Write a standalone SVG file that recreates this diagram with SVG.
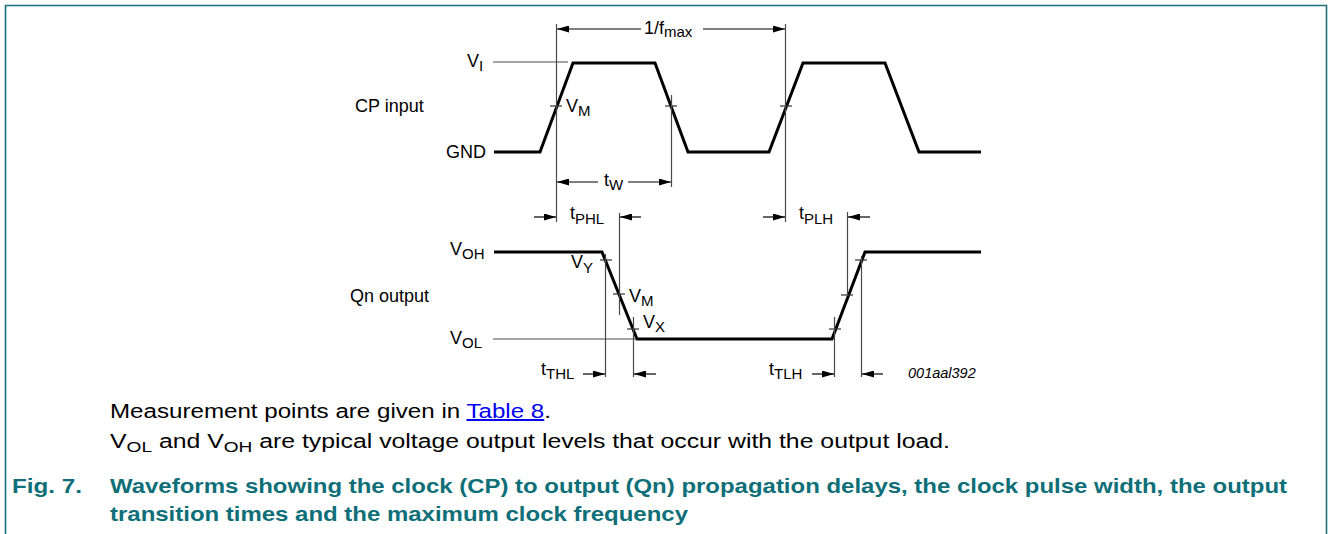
<svg xmlns="http://www.w3.org/2000/svg" width="1328" height="534" viewBox="0 0 1328 534">
<style>
text{font-family:"Liberation Sans",Arial,sans-serif;fill:#000}
.lbl{font-size:18px}
.sub{font-size:15px}
.wave{fill:none;stroke:#000;stroke-width:3;stroke-linejoin:miter}
.thin{fill:none;stroke:#4a4a4a;stroke-width:1.2}
.tick{fill:none;stroke:#333;stroke-width:1.2}
.dim{fill:none;stroke:#000;stroke-width:1.2}
.body{font-size:19.5px}
.cap{font-size:21px;font-weight:bold;fill:#0f6f78}
</style>
<defs>
<marker id="ah" viewBox="0 0 12 7" refX="12" refY="3.5" markerWidth="12" markerHeight="7" markerUnits="userSpaceOnUse" orient="auto">
<path d="M0,0 L12,3.5 L0,7 z" fill="#000"/>
</marker>
</defs>
<rect width="1328" height="534" fill="#fff"/>
<path d="M5.5,534 V5.5 H1326.5 V534" fill="none" stroke="#1b6f78" stroke-width="1.6"/>

<g id="cp-input">
<polyline class="wave" points="494,152 540,152 573,63 655,63 688,152 769,152 803,63 885,63 919,152 981,152"/>
<line class="thin" x1="493" y1="62" x2="568" y2="62"/>
<line class="tick" x1="550" y1="106" x2="562" y2="106"/>
<line class="tick" x1="665" y1="106" x2="677" y2="106"/>
<line class="tick" x1="780" y1="106" x2="792" y2="106"/>
<text class="lbl" x="355" y="112">CP input</text>
<text class="lbl" x="446" y="158">GND</text>
<text class="lbl" x="467" y="67">V<tspan class="sub" dy="4">I</tspan></text>
<text class="lbl" x="566" y="112">V<tspan class="sub" dy="4">M</tspan></text>
</g>

<g id="qn-output">
<polyline class="wave" points="494,252 602,252 637,339 832,339 865,252 981,252"/>
<line class="thin" x1="493" y1="339" x2="637" y2="339"/>
<line class="tick" x1="600" y1="260" x2="612" y2="260"/>
<line class="tick" x1="613" y1="294" x2="625" y2="294"/>
<line class="tick" x1="627" y1="329" x2="639" y2="329"/>
<line class="tick" x1="829" y1="329" x2="841" y2="329"/>
<line class="tick" x1="841" y1="295" x2="853" y2="295"/>
<line class="tick" x1="855" y1="260" x2="867" y2="260"/>
<text class="lbl" x="350" y="302">Qn output</text>
<text class="lbl" x="450" y="255">V<tspan class="sub" dy="4">OH</tspan></text>
<text class="lbl" x="450" y="344">V<tspan class="sub" dy="4">OL</tspan></text>
<text class="lbl" x="571" y="268">V<tspan class="sub" dy="5">Y</tspan></text>
<text class="lbl" x="629" y="302">V<tspan class="sub" dy="4">M</tspan></text>
<text class="lbl" x="643" y="328">V<tspan class="sub" dy="4">X</tspan></text>
<text x="908" y="378" style="font-size:14.5px;font-style:italic">001aal392</text>
</g>

<g id="connectors">
<line class="thin" x1="556.5" y1="24" x2="556.5" y2="222"/>
<line class="thin" x1="785.5" y1="24" x2="785.5" y2="222"/>
<line class="thin" x1="671.5" y1="95" x2="671.5" y2="187"/>
<line class="thin" x1="619.5" y1="213" x2="619.5" y2="315"/>
<line class="thin" x1="847.5" y1="212" x2="847.5" y2="296"/>
<line class="thin" x1="605.5" y1="254" x2="605.5" y2="377"/>
<line class="thin" x1="633.5" y1="317" x2="633.5" y2="377"/>
<line class="thin" x1="834.5" y1="317" x2="834.5" y2="377"/>
<line class="thin" x1="861.5" y1="256" x2="861.5" y2="377"/>

<line class="dim" x1="641" y1="29" x2="557" y2="29" marker-end="url(#ah)"/>
<line class="dim" x1="703" y1="29" x2="785" y2="29" marker-end="url(#ah)"/>
<line class="dim" x1="598" y1="182" x2="557" y2="182" marker-end="url(#ah)"/>
<line class="dim" x1="628" y1="182" x2="671" y2="182" marker-end="url(#ah)"/>
<line class="dim" x1="534" y1="217" x2="556" y2="217" marker-end="url(#ah)"/>
<line class="dim" x1="641" y1="217" x2="620" y2="217" marker-end="url(#ah)"/>
<line class="dim" x1="763" y1="217" x2="785" y2="217" marker-end="url(#ah)"/>
<line class="dim" x1="870" y1="217" x2="848" y2="217" marker-end="url(#ah)"/>
<line class="dim" x1="583" y1="374" x2="605" y2="374" marker-end="url(#ah)"/>
<line class="dim" x1="656" y1="374" x2="634" y2="374" marker-end="url(#ah)"/>
<line class="dim" x1="812" y1="374" x2="834" y2="374" marker-end="url(#ah)"/>
<line class="dim" x1="883" y1="374" x2="862" y2="374" marker-end="url(#ah)"/>

<text class="lbl" x="644" y="34">1/f<tspan class="sub" dy="3">max</tspan></text>
<text class="lbl" x="604" y="186">t<tspan class="sub" dy="4">W</tspan></text>
<text class="lbl" x="570" y="219">t<tspan class="sub" dy="5">PHL</tspan></text>
<text class="lbl" x="799" y="219">t<tspan class="sub" dy="5">PLH</tspan></text>
<text class="lbl" x="541" y="375">t<tspan class="sub" dy="4">THL</tspan></text>
<text class="lbl" x="769" y="375">t<tspan class="sub" dy="4">TLH</tspan></text>
</g>

<g id="notes">
<text class="body" x="110" y="418" textLength="441" lengthAdjust="spacingAndGlyphs">Measurement points are given in <tspan text-decoration="underline" style="fill:#0000ee">Table 8</tspan>.</text>
<text class="body" x="110" y="448" textLength="840" lengthAdjust="spacingAndGlyphs">V<tspan dy="4" style="font-size:15px">OL</tspan><tspan dy="-4"> and V</tspan><tspan dy="4" style="font-size:15px">OH</tspan><tspan dy="-4"> are typical voltage output levels that occur with the output load.</tspan></text>
</g>

<g id="caption">
<text class="cap" x="12" y="493" textLength="70" lengthAdjust="spacingAndGlyphs">Fig. 7.</text>
<text class="cap" x="110" y="493" textLength="1177" lengthAdjust="spacingAndGlyphs">Waveforms showing the clock (CP) to output (Qn) propagation delays, the clock pulse width, the output</text>
<text class="cap" x="110" y="521" textLength="578" lengthAdjust="spacingAndGlyphs">transition times and the maximum clock frequency</text>
</g>
</svg>
